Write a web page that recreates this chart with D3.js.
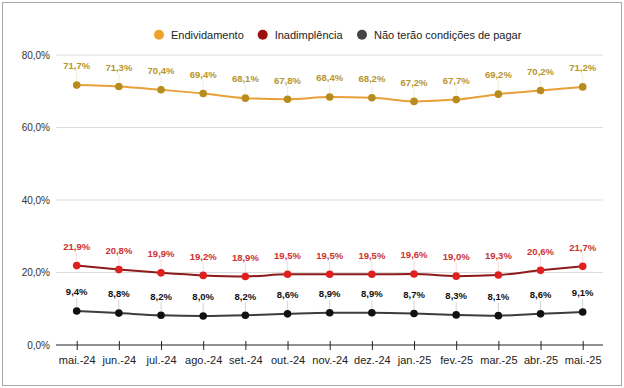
<!DOCTYPE html>
<html>
<head>
<meta charset="utf-8">
<script src="https://cdn.jsdelivr.net/npm/d3@7"></script>
<style>
  body { margin: 0; background: #fff; }
  text { font-family: Arial, "Liberation Sans", sans-serif; }
</style>
</head>
<body>
<div id="chart"></div>
<script>
// meses e séries (valores em %)
var meses = ["mai.-24","jun.-24","jul.-24","ago.-24","set.-24","out.-24","nov.-24","dez.-24","jan.-25","fev.-25","mar.-25","abr.-25","mai.-25"];
var endividamento = [71.7, 71.3, 70.4, 69.4, 68.1, 67.8, 68.4, 68.2, 67.2, 67.7, 69.2, 70.2, 71.2];
var inadimplencia = [21.9, 20.8, 19.9, 19.2, 18.9, 19.5, 19.5, 19.5, 19.6, 19.0, 19.3, 20.6, 21.7];
var naoPagar = [9.4, 8.8, 8.2, 8.0, 8.2, 8.6, 8.9, 8.9, 8.7, 8.3, 8.1, 8.6, 9.1];
var yTicks = [0, 20, 40, 60, 80];

var series = [
  {nome: "Endividamento", valores: endividamento, legenda: "#f0a22e", linha: "#e8a03a", ponto: "#b88c1c", rotulo: "#b8952c"},
  {nome: "Inadimplência", valores: inadimplencia, legenda: "#9b0f0f", linha: "#8e1a1a", ponto: "#e02020", rotulo: "#cc3333"},
  {nome: "Não terão condições de pagar", valores: naoPagar, legenda: "#444444", linha: "#3c3c3c", ponto: "#111111", rotulo: "#111111"}
];

var W = 624, H = 388;
var fmt = function(v) { return d3.format(".1f")(v).replace(".", ",") + "%"; };

var svg = d3.select("#chart").append("svg")
  .attr("width", W)
  .attr("height", H);

// moldura
svg.append("rect")
  .attr("x", 2.5).attr("y", 2.5)
  .attr("width", 619).attr("height", 383)
  .attr("fill", "#fff")
  .attr("stroke", "#a8a8a8");

var x = d3.scalePoint().domain(meses).range([76.7, 582.7]);
var y = d3.scaleLinear().domain([0, 80]).range([345, 55]);

// grade
svg.selectAll(".grid").data(yTicks.filter(function(d){ return d > 0; }))
  .enter().append("line")
  .attr("class", "grid")
  .attr("x1", 56).attr("x2", 603)
  .attr("y1", function(d){ return y(d); })
  .attr("y2", function(d){ return y(d); })
  .attr("stroke", "#dcdcdc");

// eixo y (só rótulos)
var yAxis = svg.append("g")
  .attr("transform", "translate(56,0)")
  .call(d3.axisLeft(y).tickValues(yTicks).tickSize(0).tickPadding(6).tickFormat(fmt));
yAxis.select(".domain").remove();
yAxis.selectAll("text").attr("font-size", 10).attr("fill", "#333").attr("font-family", "Arial, 'Liberation Sans', sans-serif");

// eixo x
var xAxis = svg.append("g")
  .attr("transform", "translate(0," + y(0) + ")")
  .call(d3.axisBottom(x).tickSizeInner(5).tickSizeOuter(0).tickPadding(6));
xAxis.select(".domain").attr("d", "M56,0H603").attr("stroke", "#222");
xAxis.selectAll(".tick line").attr("y1", -4).attr("y2", 5).attr("stroke", "#222");
xAxis.selectAll("text").attr("font-size", 11).attr("fill", "#222").attr("font-family", "Arial, 'Liberation Sans', sans-serif");

var line = d3.line()
  .x(function(d, i){ return x(meses[i]); })
  .y(function(d){ return y(d); })
  .curve(d3.curveMonotoneX);

series.forEach(function(s) {
  var g = svg.append("g");

  // linhas-guia dos rótulos
  g.selectAll(".guia").data(s.valores).enter().append("line")
    .attr("x1", function(d, i){ return x(meses[i]); })
    .attr("x2", function(d, i){ return x(meses[i]); })
    .attr("y1", function(d){ return y(d) - 4; })
    .attr("y2", function(d){ return y(d) - 13; })
    .attr("stroke", s.rotulo)
    .attr("stroke-opacity", 0.18);

  g.append("path")
    .datum(s.valores)
    .attr("d", line)
    .attr("fill", "none")
    .attr("stroke", s.linha)
    .attr("stroke-width", 2);

  g.selectAll(".ponto").data(s.valores).enter().append("circle")
    .attr("cx", function(d, i){ return x(meses[i]); })
    .attr("cy", function(d){ return y(d); })
    .attr("r", 3.8)
    .attr("fill", s.ponto);

  g.selectAll(".rotulo").data(s.valores).enter().append("text")
    .attr("x", function(d, i){ return x(meses[i]); })
    .attr("y", function(d){ return y(d) - 19; })
    .attr("dy", "0.35em")
    .attr("text-anchor", "middle")
    .attr("font-size", 9.5)
    .attr("font-weight", "bold")
    .attr("fill", s.rotulo)
    .text(fmt);
});

// legenda
var legX = [159, 262.7, 362];
var leg = svg.selectAll(".leg").data(series).enter().append("g")
  .attr("transform", function(d, i){ return "translate(" + legX[i] + ",34.7)"; });
leg.append("circle").attr("r", 5).attr("fill", function(d){ return d.legenda; });
leg.append("text")
  .attr("x", 12).attr("dy", "0.35em")
  .attr("font-size", 11).attr("fill", "#222")
  .text(function(d){ return d.nome; });
</script>
</body>
</html>
